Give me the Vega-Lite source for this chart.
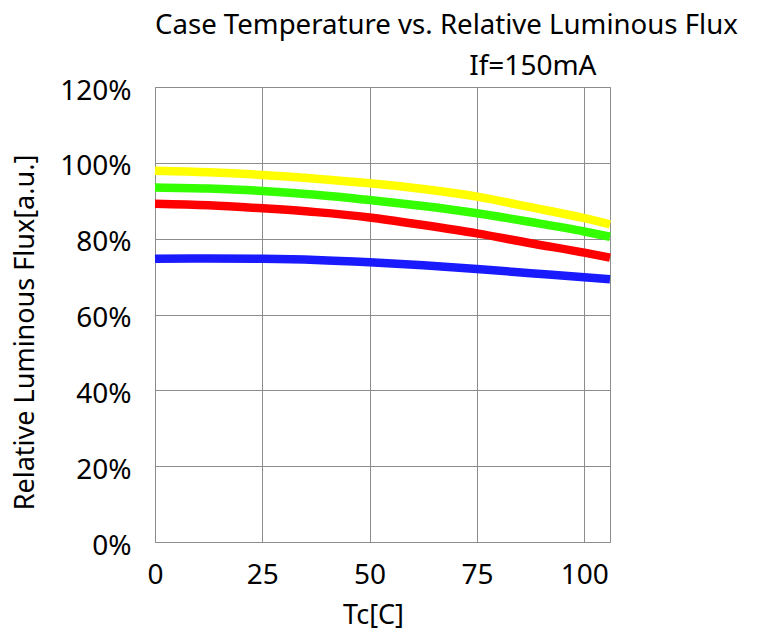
{
  "$schema": "https://vega.github.io/schema/vega-lite/v6.json",
  "autosize": {"type": "none"},
  "padding": {"left": 155, "top": 87, "right": 147, "bottom": 90},
  "width": 455,
  "height": 455,
  "background": "white",
  "title": {
    "text": "Case Temperature vs. Relative Luminous Flux",
    "anchor": "start",
    "frame": "group",
    "font": "Noto Sans",
    "fontSize": 27.6,
    "fontWeight": "normal",
    "color": "black",
    "offset": 12
  },
  "config": {
    "view": {"stroke": "#8c8c8c", "strokeWidth": 1},
    "axis": {
      "labelFont": "Noto Sans",
      "titleFont": "Noto Sans",
      "labelColor": "black",
      "titleColor": "black",
      "labelFontSize": 28,
      "titleFontSize": 27,
      "titleFontWeight": "normal",
      "gridColor": "#8c8c8c",
      "gridOpacity": 1,
      "gridWidth": 1,
      "domain": false,
      "ticks": false
    }
  },
  "data": {
    "values": [
      {"series": "Yellow", "tc": 0, "flux": 97.9},
      {"series": "Yellow", "tc": 12.5, "flux": 97.5},
      {"series": "Yellow", "tc": 25, "flux": 96.8},
      {"series": "Yellow", "tc": 37.5, "flux": 95.8},
      {"series": "Yellow", "tc": 50, "flux": 94.6},
      {"series": "Yellow", "tc": 62.5, "flux": 93.1},
      {"series": "Yellow", "tc": 75, "flux": 91.1},
      {"series": "Yellow", "tc": 87.5, "flux": 88.3},
      {"series": "Yellow", "tc": 100, "flux": 85.4},
      {"series": "Yellow", "tc": 106, "flux": 83.8},
      {"series": "Green", "tc": 0, "flux": 93.5},
      {"series": "Green", "tc": 12.5, "flux": 93.2},
      {"series": "Green", "tc": 25, "flux": 92.6},
      {"series": "Green", "tc": 37.5, "flux": 91.6},
      {"series": "Green", "tc": 50, "flux": 90.2},
      {"series": "Green", "tc": 62.5, "flux": 88.6},
      {"series": "Green", "tc": 75, "flux": 86.7},
      {"series": "Green", "tc": 87.5, "flux": 84.4},
      {"series": "Green", "tc": 100, "flux": 81.9},
      {"series": "Green", "tc": 106, "flux": 80.5},
      {"series": "Red", "tc": 0, "flux": 89.2},
      {"series": "Red", "tc": 12.5, "flux": 88.8},
      {"series": "Red", "tc": 25, "flux": 88.0},
      {"series": "Red", "tc": 37.5, "flux": 87.0},
      {"series": "Red", "tc": 50, "flux": 85.6},
      {"series": "Red", "tc": 62.5, "flux": 83.6},
      {"series": "Red", "tc": 75, "flux": 81.4},
      {"series": "Red", "tc": 87.5, "flux": 78.8},
      {"series": "Red", "tc": 100, "flux": 76.3},
      {"series": "Red", "tc": 106, "flux": 75.0},
      {"series": "Blue", "tc": 0, "flux": 74.7},
      {"series": "Blue", "tc": 12.5, "flux": 74.8},
      {"series": "Blue", "tc": 25, "flux": 74.7},
      {"series": "Blue", "tc": 37.5, "flux": 74.4},
      {"series": "Blue", "tc": 50, "flux": 73.8},
      {"series": "Blue", "tc": 62.5, "flux": 73.0},
      {"series": "Blue", "tc": 75, "flux": 72.0},
      {"series": "Blue", "tc": 87.5, "flux": 70.9},
      {"series": "Blue", "tc": 100, "flux": 69.8},
      {"series": "Blue", "tc": 106, "flux": 69.3}
    ]
  },
  "layer": [
    {
      "mark": {"type": "line", "strokeWidth": 8.5, "interpolate": "monotone", "strokeCap": "butt"},
      "encoding": {
        "x": {
          "field": "tc", "type": "quantitative",
          "scale": {"domain": [0, 106], "nice": false, "zero": false},
          "axis": {"orient": "bottom", "values": [0, 25, 50, 75, 100], "title": "Tc[C]", "labelPadding": 19, "titlePadding": 13, "titleX": 218, "labelFlush": false}
        },
        "y": {
          "field": "flux", "type": "quantitative",
          "scale": {"domain": [0, 120], "nice": false},
          "axis": {"values": [0, 20, 40, 60, 80, 100, 120], "labelExpr": "datum.value + '%'", "title": "Relative Luminous Flux[a.u.]", "labelPadding": 24, "labelOffset": 4, "titlePadding": 20, "titleY": 245, "labelFlush": false}
        },
        "color": {
          "field": "series", "type": "nominal",
          "scale": {"domain": ["Yellow", "Green", "Red", "Blue"], "range": ["#ffff00", "#33ff00", "#ff0000", "#1a1aff"]},
          "legend": null
        },
        "order": {"field": "tc", "type": "quantitative"}
      }
    },
    {
      "mark": {"type": "line", "strokeOpacity": 0},
      "encoding": {
        "x": {
          "field": "tc", "type": "quantitative",
          "axis": {"orient": "top", "grid": false, "labels": false, "title": "If=150mA", "titleFontSize": 28, "titleAnchor": "end", "titleAlign": "right", "titleX": 441, "titleY": -13, "titleBaseline": "alphabetic"}
        },
        "y": {"field": "flux", "type": "quantitative"},
        "detail": {"field": "series"}
      }
    }
  ],
  "resolve": {"axis": {"x": "independent"}}
}
